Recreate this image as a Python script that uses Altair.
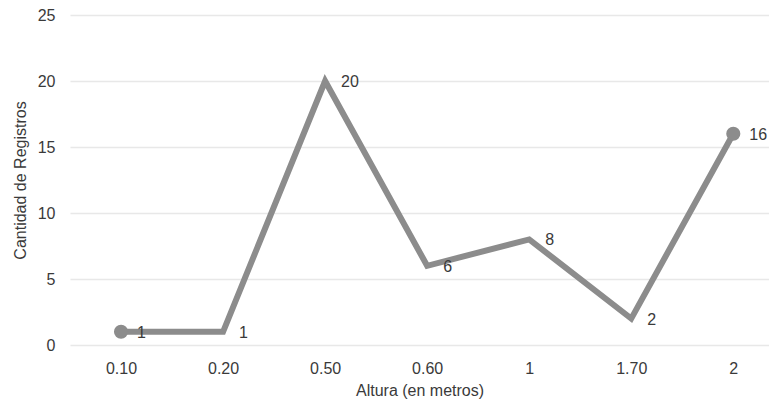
import altair as alt
import pandas as pd

categories = ["0.10", "0.20", "0.50", "0.60", "1", "1.70", "2"]
values = [1, 1, 20, 6, 8, 2, 16]
marked = [True, False, False, False, False, False, True]

df = pd.DataFrame({
    "idx": list(range(len(categories))),
    "cat": categories,
    "val": values,
    "marked": marked,
})

label_arr = "[" + ",".join("'%s'" % c for c in categories) + "]"

x = alt.X("idx:Q",
          scale=alt.Scale(domain=[-0.5, 6.35], nice=False, zero=False),
          axis=alt.Axis(values=list(range(len(categories))),
                        labelExpr=label_arr + "[datum.value]",
                        title="Altura (en metros)", grid=False, domain=False, ticks=False,
                        labelPadding=15, titlePadding=6))
y = alt.Y("val:Q",
          scale=alt.Scale(domain=[0, 25], nice=False),
          axis=alt.Axis(values=[0, 5, 10, 15, 20, 25], title="Cantidad de Registros",
                        domain=False, ticks=False, labelPadding=15, titlePadding=9,
                        gridColor="#e8e8e8", gridWidth=1.5))

base = alt.Chart(df)
line = base.mark_line(color="#8c8c8c", strokeWidth=6, strokeJoin="miter").encode(x=x, y=y)
pts = base.transform_filter("datum.marked").mark_circle(color="#8c8c8c", size=200, opacity=1).encode(x=x, y=y)
txt = base.mark_text(align="left", dx=16, dy=1, fontSize=16, color="#3a3a3a",
                     font="Liberation Sans").encode(x=x, y=y, text="val:Q")

chart = alt.layer(line, pts, txt).properties(
    width=699, height=330,
    autosize=alt.AutoSizeParams(type="none"),
    padding={"left": 62, "top": 7, "right": 0, "bottom": 54},
).configure_view(stroke=None).configure_axis(
    labelFont="Liberation Sans", titleFont="Liberation Sans",
    labelFontSize=16, titleFontSize=16, labelColor="#3a3a3a", titleColor="#3a3a3a",
    titleFontWeight="normal",
)

chart.save("out.html", embed_options={"renderer": "svg", "actions": False})
